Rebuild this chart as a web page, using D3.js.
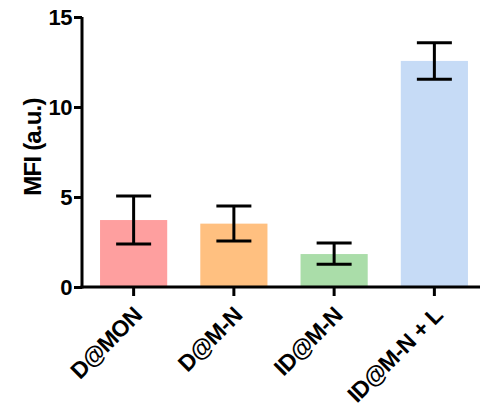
<!DOCTYPE html>
<html>
<head>
<meta charset="utf-8">
<script src="https://cdn.jsdelivr.net/npm/d3@7"></script>
<style>
  body { margin: 0; background: #fff; }
  text { font-family: "Liberation Sans", Arial, sans-serif; font-weight: bold; fill: #000; }
</style>
</head>
<body>
<svg id="chart" width="480" height="412"></svg>
<script>
// data
var groups = ['D@MON', 'D@M-N', 'ID@M-N', 'ID@M-N + L'];
var means = [3.72, 3.52, 1.83, 12.56];
var errLow = [2.39, 2.56, 1.26, 11.54];
var errHigh = [5.06, 4.50, 2.44, 13.57];
var colors = ['#fe9f9f', '#ffc080', '#aadda9', '#c6dbf6'];
var yTicks = [0, 5, 10, 15];

var svg = d3.select('#chart');
var mLeft = 82, mRight = 486, mTop = 17, mBottom = 287;

var x = d3.scaleBand().domain(groups).range([mLeft, mRight]).paddingInner(0.33).paddingOuter(0.18);
var y = d3.scaleLinear().domain([0, 15]).range([mBottom, mTop]);

// bars
svg.append('g').selectAll('rect')
  .data(groups)
  .enter().append('rect')
  .attr('x', function(d) { return x(d); })
  .attr('width', x.bandwidth())
  .attr('y', function(d, i) { return y(means[i]); })
  .attr('height', function(d, i) { return y(0) - y(means[i]); })
  .attr('fill', function(d, i) { return colors[i]; });

// error bars
var capW = 35;
var err = svg.append('g').attr('stroke', '#000').attr('stroke-width', 3);
groups.forEach(function(d, i) {
  var cx = x(d) + x.bandwidth() / 2;
  err.append('line').attr('x1', cx).attr('x2', cx).attr('y1', y(errLow[i])).attr('y2', y(errHigh[i]));
  err.append('line').attr('x1', cx - capW / 2).attr('x2', cx + capW / 2).attr('y1', y(errLow[i])).attr('y2', y(errLow[i]));
  err.append('line').attr('x1', cx - capW / 2).attr('x2', cx + capW / 2).attr('y1', y(errHigh[i])).attr('y2', y(errHigh[i]));
});

// y axis
var yAxis = svg.append('g')
  .attr('transform', 'translate(' + mLeft + ',0)')
  .call(d3.axisLeft(y).tickValues(yTicks).tickSize(8).tickPadding(2).tickSizeOuter(0));
yAxis.select('.domain').attr('stroke-width', 3).attr('d', 'M0,' + (mBottom + 1.5) + 'V' + mTop);
yAxis.selectAll('.tick line').attr('stroke-width', 3);
yAxis.selectAll('.tick text').style('font-size', '22px').style('letter-spacing', '-0.5px').attr('dy', '0.36em');

// x axis
var xAxis = svg.append('g')
  .attr('transform', 'translate(0,' + mBottom + ')')
  .call(d3.axisBottom(x).tickSize(9).tickSizeOuter(0));
xAxis.select('.domain').attr('stroke-width', 3).attr('d', 'M' + (mLeft - 1.5) + ',0H480');
xAxis.selectAll('.tick line').attr('stroke-width', 3);
xAxis.selectAll('.tick text')
  .style('font-size', '23px')
  .style('letter-spacing', '-0.6px')
  .attr('text-anchor', 'end')
  .attr('dy', '0.35em')
  .attr('transform', 'translate(4,24) rotate(-45)')
  .attr('y', 0).attr('x', 0);

// y label
svg.append('text')
  .attr('transform', 'translate(41,147) rotate(-90)')
  .attr('text-anchor', 'middle')
  .style('font-size', '24px')
  .style('letter-spacing', '-0.8px')
  .text('MFI (a.u.)');
</script>
</body>
</html>
